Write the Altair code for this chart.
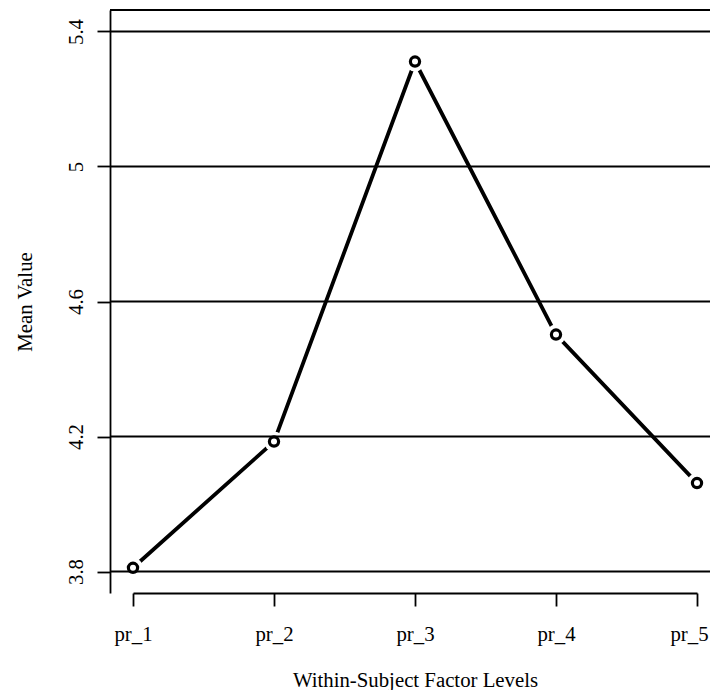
import altair as alt
import pandas as pd

levels = ["pr_1", "pr_2", "pr_3", "pr_4", "pr_5"]
means = [3.811, 4.185, 5.311, 4.502, 4.062]
grid_values = [3.8, 4.2, 4.6, 5.0, 5.4]

df = pd.DataFrame({"level": levels, "mean": means})
gdf = pd.DataFrame({"g": grid_values})

W, H = 600, 583
FONT = "Liberation Serif"
FS = 20.8
LW = 1.8

xscale = alt.Scale(type="point", domain=levels, range=[23, 587], padding=0)
yscale = alt.Scale(domain=[3.7363, 5.4637], nice=False, zero=False)

x_enc = alt.X(
    "level:N", scale=xscale, sort=levels,
    axis=alt.Axis(
        title="Within-Subject Factor Levels", labelAngle=0,
        labelFont=FONT, labelFontSize=FS, labelColor="black",
        labelBaseline="alphabetic", labelPadding=34.6,
        labelOffset={"condition": {"test": "datum.value == 'pr_5'", "value": -8}, "value": 0},
        tickSize=13, tickColor="black", tickWidth=LW,
        domainColor="black", domainWidth=LW,
        titleFont=FONT, titleFontSize=FS, titleFontWeight="normal", titleColor="black",
        titleBaseline="alphabetic", titleY=93, grid=False,
    ),
)
y_enc = alt.Y(
    "mean:Q", scale=yscale,
    axis=alt.Axis(
        title="Mean Value", values=grid_values, format=".1~f",
        labelAngle=270, labelAlign="center", labelBaseline="alphabetic",
        labelFont=FONT, labelFontSize=FS, labelColor="black", labelPadding=15,
        tickSize=13, tickColor="black", tickWidth=LW,
        domainColor="black", domainWidth=LW,
        titleFont=FONT, titleFontSize=FS, titleFontWeight="normal", titleColor="black",
        titleAngle=270, titleAlign="center", titleBaseline="alphabetic",
        titleX=-78.3, titleY=H / 2, grid=False,
    ),
)

base = alt.Chart(df)
line = base.mark_line(color="black", strokeWidth=3.8).encode(x=x_enc, y=y_enc)
halo = base.mark_circle(fill="white", opacity=1, size=400, strokeWidth=0).encode(
    x=alt.X("level:N", scale=xscale, sort=levels),
    y=alt.Y("mean:Q", scale=yscale),
)
grid = alt.Chart(gdf).mark_rule(color="black", strokeWidth=LW).encode(
    y=alt.Y("g:Q", scale=yscale)
)
top = alt.Chart(gdf).mark_rule(color="black", strokeWidth=LW).encode(
    x=alt.value(0), x2=alt.value(W), y=alt.value(0)
)
pts = base.mark_circle(fill="white", stroke="black", strokeWidth=3.2, size=85, opacity=1).encode(
    x=alt.X("level:N", scale=xscale, sort=levels),
    y=alt.Y("mean:Q", scale=yscale),
)

chart = (
    alt.layer(line, halo, grid, top, pts)
    .properties(
        width=W, height=H,
        autosize=alt.AutoSizeParams(type="none"),
        padding={"left": 102, "top": 2, "right": 0, "bottom": 97},
        background="white",
    )
    .configure_view(stroke=None)
)

chart.save("out.html", embed_options={"renderer": "svg", "actions": False})
